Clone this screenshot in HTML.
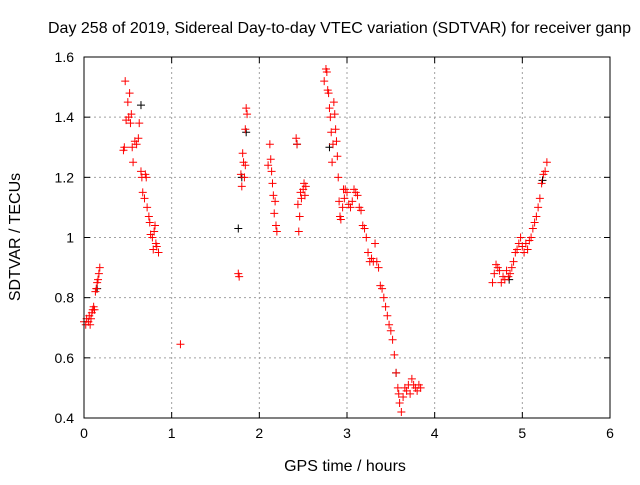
<!DOCTYPE html>
<html><head><meta charset="utf-8"><style>
body{margin:0;background:#fff;width:640px;height:480px;overflow:hidden}
svg text{font-family:"Liberation Sans",sans-serif;font-size:14px;fill:#000}
svg text.big{font-size:16px}
</style></head><body>
<svg id="chart" width="640" height="480">
<text class="big" x="48" y="33">Day 258 of 2019, Sidereal Day-to-day VTEC variation (SDTVAR) for receiver ganp</text>
<text class="big" transform="translate(20,237) rotate(-90)" text-anchor="middle">SDTVAR / TECUs</text>
<text class="big" x="345" y="471" text-anchor="middle">GPS time / hours</text>
<g id="grid"></g><g id="marks"></g>
<rect x="84" y="57" width="526" height="361" fill="none" stroke="#000" stroke-width="1"/>
</svg>
<script>
const xTicks=[0,1,2,3,4,5,6];
const yTicks=[0.4,0.6,0.8,1,1.2,1.4,1.6];
const yTickLabels=["0.4","0.6","0.8","1","1.2","1.4","1.6"];
const redX=[0.0,0.02,0.03,0.05,0.06,0.07,0.08,0.09,0.1,0.11,0.12,0.13,0.14,0.15,0.16,0.17,0.18,
0.45,0.46,0.47,0.48,0.5,0.51,0.52,0.53,0.54,0.55,0.56,0.58,0.6,0.62,0.63,0.65,0.66,0.67,0.69,0.7,0.71,0.72,0.74,0.75,0.76,0.78,0.79,0.8,0.81,0.82,0.83,0.85,
1.1,1.76,1.77,1.79,1.8,1.81,1.82,1.83,1.84,1.85,1.86,1.84,
2.1,2.12,2.13,2.14,2.15,2.16,2.17,2.18,2.19,2.2,
2.42,2.43,2.44,2.45,2.46,2.47,2.48,2.5,2.51,2.52,2.53,
2.74,2.76,2.77,2.78,2.79,2.8,2.81,2.82,2.83,2.84,2.85,2.86,2.87,2.88,2.89,2.9,2.91,2.92,2.93,2.95,2.96,2.97,2.98,3.0,3.02,3.04,3.06,3.08,3.1,3.12,3.14,3.16,3.18,3.2,3.22,3.24,3.26,3.28,3.3,3.32,3.34,3.36,3.38,3.4,3.42,3.44,3.46,3.48,3.5,3.52,3.54,3.56,3.58,3.59,3.6,3.62,3.64,3.66,3.68,3.7,3.72,3.74,3.76,3.78,3.8,3.82,3.84,
4.66,4.68,4.7,4.72,4.74,4.76,4.78,4.8,4.82,4.84,4.86,4.88,4.9,4.92,4.94,4.96,4.98,5.0,5.02,5.04,5.06,5.08,5.1,5.12,5.14,5.16,5.18,5.2,5.22,5.24,5.26,5.28];
const redY=[0.72,0.71,0.73,0.72,0.74,0.71,0.73,0.75,0.76,0.77,0.76,0.82,0.83,0.85,0.86,0.88,0.9,
1.29,1.30,1.52,1.39,1.45,1.40,1.48,1.38,1.41,1.30,1.25,1.32,1.31,1.33,1.38,1.22,1.20,1.15,1.13,1.21,1.20,1.10,1.07,1.05,1.01,1.00,0.96,1.02,1.04,0.98,0.97,0.95,
0.645,0.88,0.87,1.21,1.17,1.28,1.25,1.20,1.36,1.43,1.41,1.24,
1.24,1.31,1.26,1.22,1.18,1.14,1.08,1.12,1.04,1.02,
1.33,1.31,1.11,1.02,1.07,1.15,1.13,1.16,1.18,1.14,1.17,
1.52,1.56,1.55,1.49,1.48,1.43,1.40,1.35,1.25,1.31,1.45,1.41,1.36,1.32,1.27,1.20,1.12,1.07,1.06,1.10,1.16,1.13,1.16,1.15,1.11,1.10,1.12,1.16,1.15,1.14,1.10,1.09,1.04,1.03,1.00,0.95,0.92,0.93,0.92,0.98,0.92,0.90,0.84,0.83,0.80,0.77,0.74,0.71,0.69,0.66,0.61,0.55,0.50,0.48,0.45,0.42,0.47,0.50,0.49,0.51,0.48,0.53,0.51,0.50,0.49,0.51,0.50,
0.85,0.88,0.91,0.90,0.89,0.85,0.87,0.86,0.89,0.87,0.88,0.90,0.92,0.95,0.96,0.98,1.00,0.97,0.95,0.98,0.96,0.99,1.00,1.03,1.05,1.07,1.10,1.13,1.18,1.21,1.22,1.25];
const blackX=[0.15,0.65,1.76,1.8,1.85,2.43,2.8,3.56,4.85,5.23];
const blackY=[0.83,1.44,1.03,1.2,1.35,1.31,1.3,0.55,0.86,1.19];
const NS="http://www.w3.org/2000/svg";
const L=84,R=610,T=57,B=418;
const sx=v=>L+(v-0)/6*(R-L);
const sy=v=>B-(v-0.4)/1.2*(B-T);
const grid=document.getElementById('grid'),marks=document.getElementById('marks');
function mk(tag,attrs,parent){const e=document.createElementNS(NS,tag);for(const k in attrs)e.setAttribute(k,attrs[k]);parent.appendChild(e);return e;}
xTicks.forEach((t,i)=>{const x=sx(t);
 if(i>0&&i<xTicks.length-1){const g=mk('line',{x1:x,x2:x,y1:T,y2:B,stroke:'#a0a0a0','stroke-dasharray':'2,3'},grid);
 
 }
 mk('line',{x1:x,x2:x,y1:B,y2:B-6,stroke:'#000'},grid);mk('line',{x1:x,x2:x,y1:T,y2:T+6,stroke:'#000'},grid);
 const tx=mk('text',{x:x,y:B+20,'text-anchor':'middle'},grid);tx.textContent=String(t);
 
 });
yTicks.forEach((t,i)=>{const y=sy(t);
 if(i>0&&i<yTicks.length-1){const g=mk('line',{x1:L,x2:R,y1:y,y2:y,stroke:'#a0a0a0','stroke-dasharray':'2,3'},grid);
 
 }
 mk('line',{x1:L,x2:L+6,y1:y,y2:y,stroke:'#000'},grid);mk('line',{x1:R,x2:R-6,y1:y,y2:y,stroke:'#000'},grid);
 const tx=mk('text',{x:L-10,y:y+5,'text-anchor':'end'},grid);tx.textContent=yTickLabels[i];
 
 });
function plus(xv,yv,col,name){const x=sx(xv),y=sy(yv);
 const p=mk('path',{d:`M${x-4},${y}H${x+4}M${x},${y-4}V${y+4}`,stroke:col,'stroke-width':1,fill:'none'},marks);
 
 }
blackX.forEach((v,i)=>plus(v,blackY[i],'#000','black-point'));
redX.forEach((v,i)=>plus(v,redY[i],'#ff0000','sdtvar-point'));
</script>
</body></html>
